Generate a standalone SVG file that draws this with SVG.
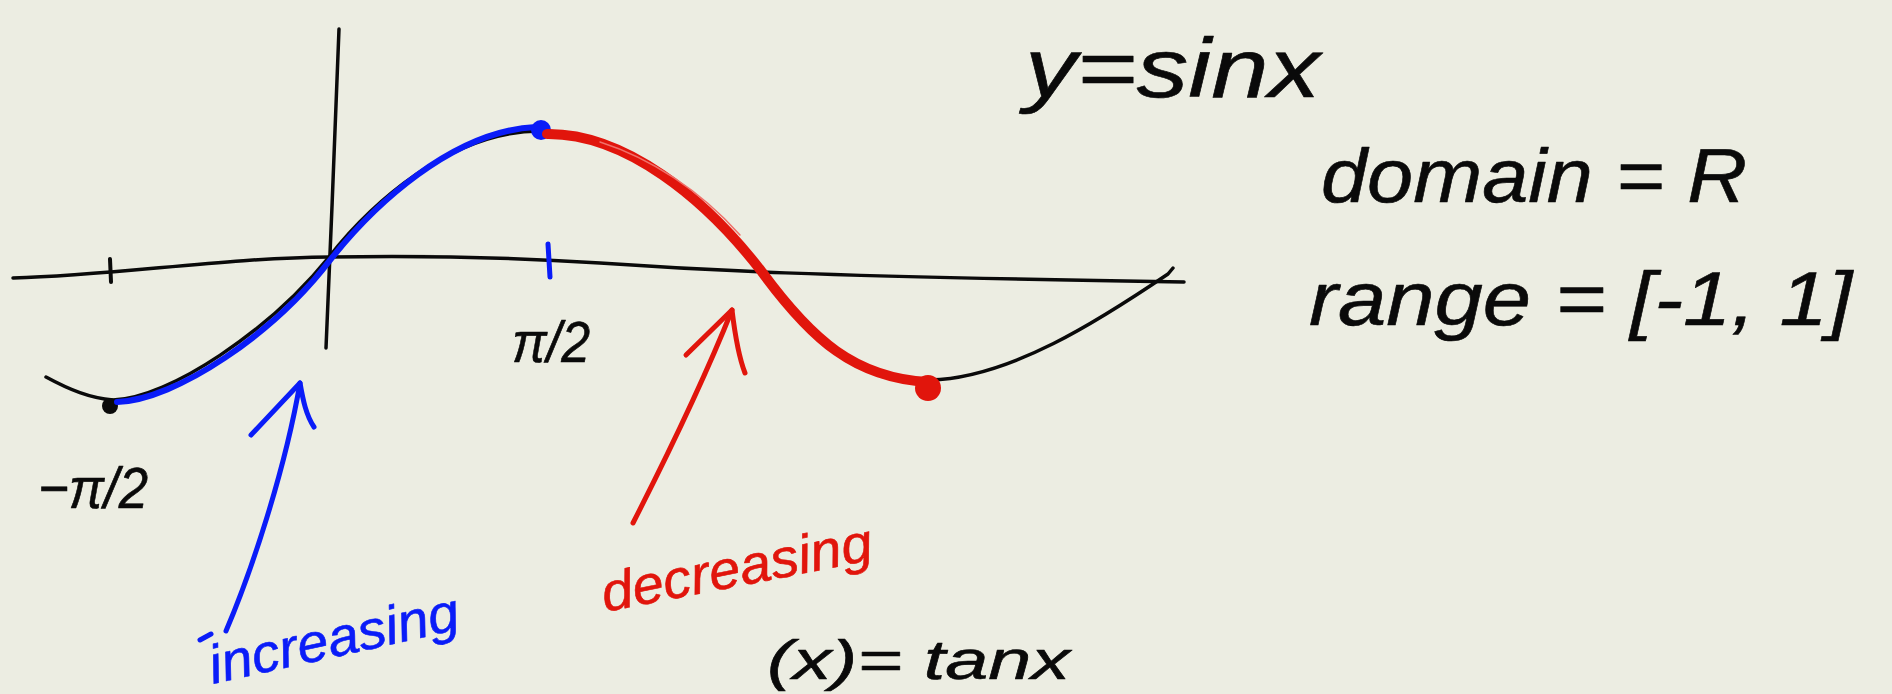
<svg xmlns="http://www.w3.org/2000/svg" width="1892" height="694" viewBox="0 0 1892 694">
<style>
.ink{fill:none;stroke-linecap:round;stroke-linejoin:round}
.blk{stroke:#0a0a0a}
.blu{stroke:#0a1cf8}
.red{stroke:#e1150c}
.hw{font-family:"Liberation Sans","DejaVu Sans",sans-serif;font-style:italic;stroke-width:0.6;stroke-linejoin:round}
.tb{fill:#0a0a0a;stroke:#0a0a0a}
.tblue{fill:#0a1cf8;stroke:#0a1cf8}
.tred{fill:#e1150c;stroke:#e1150c}
</style>
<rect x="0" y="0" width="1892" height="694" fill="#ecede2"/>
<g id="axes">
  <path class="ink blk" stroke-width="3.5" d="M13,278 C120,275 220,258 330,257 C430,255 520,258 600,263 C700,270 800,276 1184,282"/>
  <path class="ink blk" stroke-width="3.5" d="M339,29 C336,120 330,250 326,348"/>
  <path class="ink blk" stroke-width="4" d="M110,259 L111,282"/>
  <path class="ink blu" stroke-width="5" d="M548,244 L550,277"/>
</g>
<g id="sine-curve">
  <path class="ink blk" stroke-width="3.5" d="M46,377 C70,390 90,398 113,400 C170,398 270,330 329,257 C370,205 450,131 540,131 C620,131 700,195 760,272 C810,340 860,380 930,380 C1010,378 1100,320 1168,274 L1173,268"/>
  <circle cx="110" cy="406" r="8" fill="#0a0a0a"/>
</g>
<g id="increasing-part">
  <path class="ink blu" stroke-width="6" d="M117,402 C176,400 274,334 331,259 C373,206 452,131 536,127"/>
  <circle cx="541" cy="130" r="10" fill="#0a1cf8"/>
</g>
<g id="decreasing-part">
  <path class="ink red" stroke-width="10" d="M547,134 C625,133 705,198 762,272 C812,340 855,378 928,382"/>
  <path class="ink" stroke="#f0706a" stroke-width="1.5" d="M600,142 C650,158 700,190 740,235"/>
  <circle cx="928" cy="388" r="13" fill="#e1150c"/>
</g>
<g id="connectors">
  <path class="ink blu" stroke-width="5" d="M226,631 C252,570 285,470 300,383"/>
  <path class="ink blu" stroke-width="5" d="M251,435 L300,383 C303,400 306,415 314,427"/>
  <path class="ink blu" stroke-width="5" d="M200,640 L211,634"/>
  <path class="ink red" stroke-width="5" d="M633,523 C660,470 700,390 732,310"/>
  <path class="ink red" stroke-width="5" d="M686,355 L732,310 C735,335 738,355 745,373"/>
</g>
<g id="labels">
  <text class="hw tb" x="512" y="362" font-size="58" textLength="78" lengthAdjust="spacingAndGlyphs">π/2</text>
  <text class="hw tb" x="38" y="508" font-size="58" textLength="110" lengthAdjust="spacingAndGlyphs">−π/2</text>
  <text class="hw tblue" x="213" y="684" font-size="54" textLength="255" lengthAdjust="spacingAndGlyphs" transform="rotate(-12.5 213 684)">increasing</text>
  <text class="hw tred" x="605" y="612" font-size="54" textLength="275" lengthAdjust="spacingAndGlyphs" transform="rotate(-11 605 612)">decreasing</text>
  <text class="hw tb" x="1025" y="97" font-size="84" textLength="295" lengthAdjust="spacingAndGlyphs">y=sinx</text>
  <text class="hw tb" x="1321" y="202" font-size="76" textLength="426" lengthAdjust="spacingAndGlyphs">domain = R</text>
  <text class="hw tb" x="1309" y="325" font-size="76" textLength="543" lengthAdjust="spacingAndGlyphs">range = [-1, 1]</text>
  <text class="hw tb" x="767" y="679" font-size="56" textLength="303" lengthAdjust="spacingAndGlyphs">(x)= tanx</text>
</g>
</svg>
